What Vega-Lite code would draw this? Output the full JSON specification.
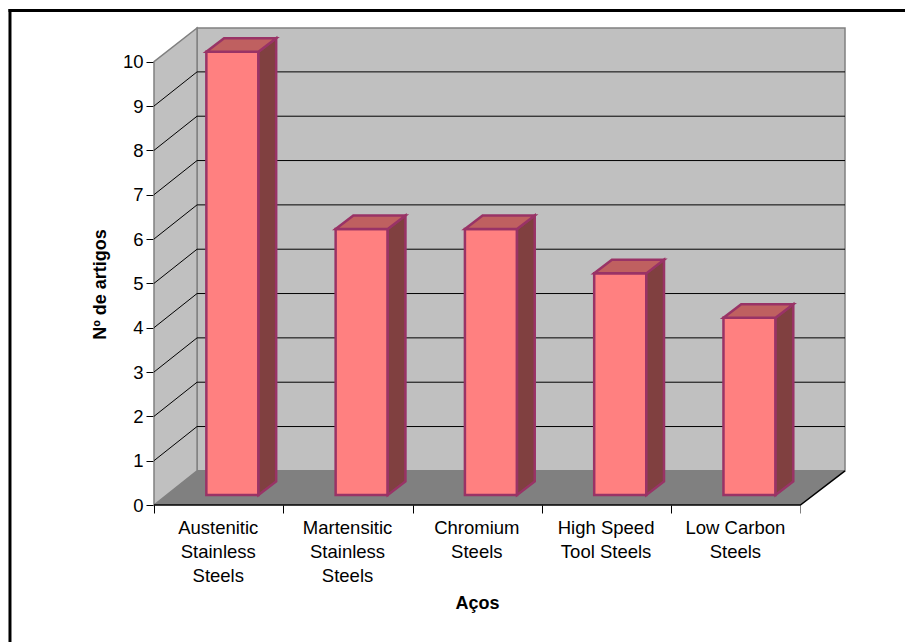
{
"$schema":"https://vega.github.io/schema/vega-lite/v6.json",
"width":691,"height":477,
"autosize":{"type":"none"},
"padding":{"left":154,"top":28,"right":60,"bottom":137},
"background":"white",
"config":{"view":{"stroke":null},"font":"Liberation Sans"},
"datasets":{
"frame":[{"s":"left","x":-1.114,"y":-3.1},{"s":"left","x":-1.114,"y":11.155},{"s":"top","x":-1.114,"y":11.155},{"s":"top","x":5.81,"y":11.155}],
"back":[{"x":0.333,"x2":5.345,"y":0.77,"y2":10.76}],
"leftwall":[{"x":0,"y":0,"y2":10},{"x":0.333,"y":0.77,"y2":10.76}],
"floor":[{"y":0,"x":0,"x2":5},{"y":0.77,"x":0.333,"x2":5.345}],
"grid":[
{"v":1,"x":0,"y":1},{"v":1,"x":0.333,"y":1.77},{"v":1,"x":5.345,"y":1.77},
{"v":2,"x":0,"y":2},{"v":2,"x":0.333,"y":2.77},{"v":2,"x":5.345,"y":2.77},
{"v":3,"x":0,"y":3},{"v":3,"x":0.333,"y":3.77},{"v":3,"x":5.345,"y":3.77},
{"v":4,"x":0,"y":4},{"v":4,"x":0.333,"y":4.77},{"v":4,"x":5.345,"y":4.77},
{"v":5,"x":0,"y":5},{"v":5,"x":0.333,"y":5.77},{"v":5,"x":5.345,"y":5.77},
{"v":6,"x":0,"y":6},{"v":6,"x":0.333,"y":6.77},{"v":6,"x":5.345,"y":6.77},
{"v":7,"x":0,"y":7},{"v":7,"x":0.333,"y":7.77},{"v":7,"x":5.345,"y":7.77},
{"v":8,"x":0,"y":8},{"v":8,"x":0.333,"y":8.77},{"v":8,"x":5.345,"y":8.77},
{"v":9,"x":0,"y":9},{"v":9,"x":0.333,"y":9.77},{"v":9,"x":5.345,"y":9.77}],
"front":[
{"bar":"Austenitic Stainless Steels","artigos":10,"x":0.405,"x2":0.808,"y":0.225,"y2":10.225},
{"bar":"Martensitic Stainless Steels","artigos":6,"x":1.405,"x2":1.808,"y":0.225,"y2":6.225},
{"bar":"Chromium Steels","artigos":6,"x":2.405,"x2":2.808,"y":0.225,"y2":6.225},
{"bar":"High Speed Tool Steels","artigos":5,"x":3.405,"x2":3.808,"y":0.225,"y2":5.225},
{"bar":"Low Carbon Steels","artigos":4,"x":4.405,"x2":4.808,"y":0.225,"y2":4.225}],
"side":[
{"bar":"a","x":0.808,"y":0.225,"y2":10.225},{"bar":"a","x":0.945,"y":0.53,"y2":10.53},
{"bar":"b","x":1.808,"y":0.225,"y2":6.225},{"bar":"b","x":1.945,"y":0.53,"y2":6.53},
{"bar":"c","x":2.808,"y":0.225,"y2":6.225},{"bar":"c","x":2.945,"y":0.53,"y2":6.53},
{"bar":"d","x":3.808,"y":0.225,"y2":5.225},{"bar":"d","x":3.945,"y":0.53,"y2":5.53},
{"bar":"e","x":4.808,"y":0.225,"y2":4.225},{"bar":"e","x":4.945,"y":0.53,"y2":4.53}],
"topface":[
{"bar":"a","y":10.225,"x":0.405,"x2":0.808},{"bar":"a","y":10.53,"x":0.542,"x2":0.945},
{"bar":"b","y":6.225,"x":1.405,"x2":1.808},{"bar":"b","y":6.53,"x":1.542,"x2":1.945},
{"bar":"c","y":6.225,"x":2.405,"x2":2.808},{"bar":"c","y":6.53,"x":2.542,"x2":2.945},
{"bar":"d","y":5.225,"x":3.405,"x2":3.808},{"bar":"d","y":5.53,"x":3.542,"x2":3.945},
{"bar":"e","y":4.225,"x":4.405,"x2":4.808},{"bar":"e","y":4.53,"x":4.542,"x2":4.945}],
"baseline":[{"x":0,"y":0},{"x":5,"y":0},{"x":5.345,"y":0.77}],
"labels":[
{"x":0.497,"y":-0.327,"label":"Austenitic\nStainless\nSteels"},
{"x":1.497,"y":-0.327,"label":"Martensitic\nStainless\nSteels"},
{"x":2.497,"y":-0.327,"label":"Chromium\nSteels"},
{"x":3.497,"y":-0.327,"label":"High Speed\nTool Steels"},
{"x":4.497,"y":-0.327,"label":"Low Carbon\nSteels"}]
},
"encoding":{
"x":{"field":"x","type":"quantitative","scale":{"domain":[0,5.345],"nice":false,"zero":false},
"axis":{"values":[0,1,2,3,4,5],"labels":false,"grid":false,"domain":false,"ticks":true,"tickSize":8,"tickColor":{"condition":{"test":"datum.value==5","value":"#808080"},"value":"#000000"},"tickWidth":1,
"title":"Aços","titleFont":"Liberation Sans","titleFontSize":18,"titleFontWeight":"bold","titleColor":"#000000","titleX":323,"titleY":103,"titleBaseline":"alphabetic"}},
"y":{"field":"y","type":"quantitative","scale":{"domain":[0,10.76],"nice":false,"zero":false},
"axis":{"values":[0,1,2,3,4,5,6,7,8,9,10],"format":"d","grid":false,"domain":false,"tickSize":8,"tickColor":"#000000","tickWidth":1,
"labelFont":"Liberation Sans","labelFontSize":18.5,"labelColor":"#000000","labelPadding":3,
"title":"Nº de artigos","titleFont":"Liberation Sans","titleFontSize":18,"titleFontWeight":"bold","titleColor":"#000000","titleX":-49,"titleY":256,"titleAngle":-90,"titleBaseline":"alphabetic"}}
},
"layer":[
{"data":{"name":"frame"},"mark":{"type":"line","stroke":"#000000","strokeWidth":3,"strokeCap":"square","clip":false},"encoding":{"detail":{"field":"s"}}},
{"data":{"name":"back"},"mark":{"type":"rect","fill":"#C0C0C0","stroke":"#808080","strokeWidth":1.5},"encoding":{"x2":{"field":"x2"},"y2":{"field":"y2"}}},
{"data":{"name":"leftwall"},"mark":{"type":"area","fill":"#C0C0C0","stroke":"#808080","strokeWidth":1.5},"encoding":{"y2":{"field":"y2"}}},
{"data":{"name":"floor"},"mark":{"type":"area","orient":"horizontal","fill":"#808080"},"encoding":{"x2":{"field":"x2"}}},
{"data":{"name":"grid"},"mark":{"type":"line","stroke":"#000000","strokeWidth":1},"encoding":{"detail":{"field":"v"}}},
{"data":{"name":"front"},"mark":{"type":"rect","fill":"#FF8080","stroke":"#993366","strokeWidth":2.5},"encoding":{"x2":{"field":"x2"},"y2":{"field":"y2"}}},
{"data":{"name":"side"},"mark":{"type":"area","fill":"#804040","stroke":"#993366","strokeWidth":2.5},"encoding":{"y2":{"field":"y2"},"detail":{"field":"bar"}}},
{"data":{"name":"topface"},"mark":{"type":"area","orient":"horizontal","fill":"#BF6060","stroke":"#993366","strokeWidth":2.5},"encoding":{"x2":{"field":"x2"},"detail":{"field":"bar"}}},
{"data":{"name":"baseline"},"mark":{"type":"line","stroke":"#000000","strokeWidth":1.5}},
{"data":{"name":"labels"},"mark":{"type":"text","font":"Liberation Sans","fontSize":18.5,"color":"#000000","baseline":"top","align":"center","lineBreak":"\n","lineHeight":23.7},"encoding":{"text":{"field":"label"}}}
]
}
